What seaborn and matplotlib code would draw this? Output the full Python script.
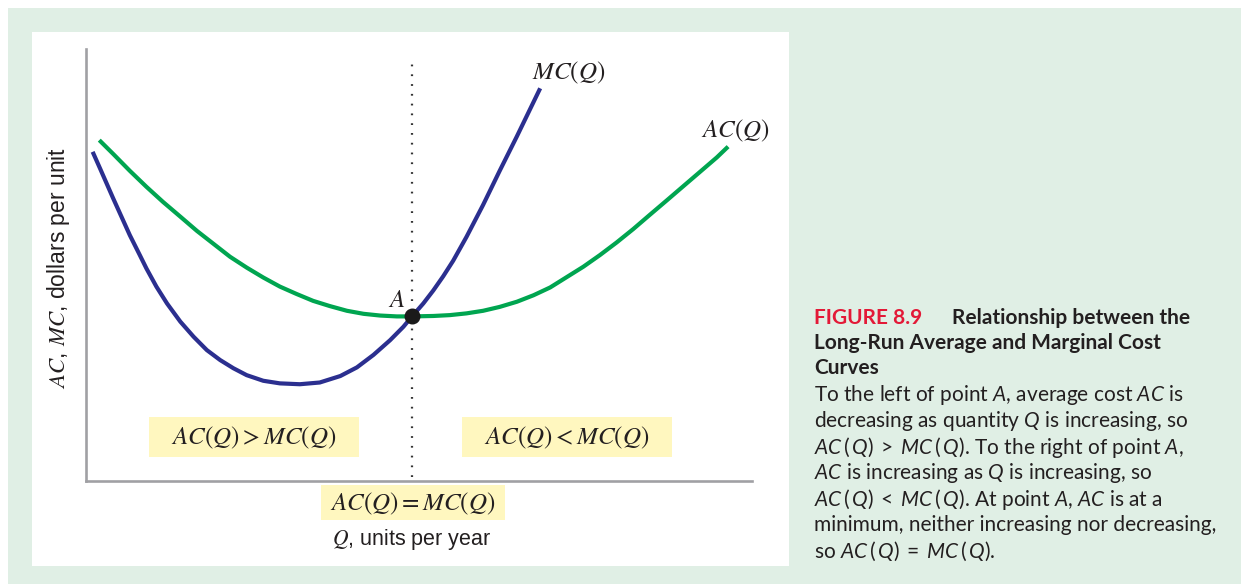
import numpy as np
import pandas as pd
import matplotlib
matplotlib.use("Agg")
import matplotlib.pyplot as plt
from matplotlib.patches import Rectangle
import seaborn as sns

# ---------------- data ----------------
mc_q = [1.0, 2.1, 3.1, 4.1, 5.1, 6.6, 8.1, 9.1, 10.6, 12.2, 14.2, 16.2, 18.2, 20.2, 22.2, 24.2,
        26.7, 29.2, 32.2, 35.2, 38.3, 40.8, 43.3, 45.8, 47.8, 49.1, 50.8, 52.3, 53.8, 55.3,
        57.3, 59.8, 62.3, 64.9, 68.4]
mc_y = [76.2, 72.4, 68.9, 65.4, 62.0, 56.9, 52.3, 49.2, 45.0, 41.1, 36.9, 33.4, 30.3, 28.0, 26.1, 24.5,
        23.2, 22.6, 22.4, 22.8, 24.3, 26.3, 29.2, 32.6, 35.7, 38.1, 41.1, 44.1, 47.4, 51.0,
        56.5, 63.9, 71.8, 79.8, 90.9]
ac_q = [2.0, 4.1, 6.6, 9.1, 11.6, 14.2, 16.7, 19.2, 21.7, 24.2, 26.7, 29.2, 31.7, 34.2, 36.7,
        39.3, 41.8, 44.3, 46.8, 49.1, 52.3, 54.8, 57.3, 59.8, 62.3, 64.9, 67.4, 69.9, 72.4,
        74.9, 77.4, 79.9, 82.4, 84.9, 87.5, 90.0, 92.5, 95.0, 96.7]
ac_y = [78.9, 75.7, 71.8, 68.1, 64.6, 61.2, 57.9, 54.9, 51.9, 49.4, 47.1, 45.0, 43.3, 41.7, 40.5,
        39.4, 38.7, 38.3, 38.1, 38.1, 38.2, 38.4, 38.8, 39.4, 40.3, 41.5, 43.0, 44.8, 47.2,
        49.6, 52.3, 55.2, 58.3, 61.6, 65.0, 68.3, 71.6, 74.9, 77.4]
point_a = (49.1, 38.1)

mc_df = pd.DataFrame({"Q": mc_q, "cost": mc_y})
ac_df = pd.DataFrame({"Q": ac_q, "cost": ac_y})

W, H = 1241, 584
sns.set_theme(style="white")
plt.rcParams["font.family"] = ["Liberation Sans", "DejaVu Sans"]
plt.rcParams["mathtext.fontset"] = "custom"
plt.rcParams["mathtext.it"] = "Lato:italic"
plt.rcParams["mathtext.rm"] = "Lato"
plt.rcParams["mathtext.bf"] = "Lato:bold"

fig = plt.figure(figsize=(W / 100, H / 100), dpi=100)
fig.patch.set_facecolor("white")

def fx(x):
    return x / W

def fy(y):
    return 1 - y / H

GREEN_BG = "#e0efe5"
# outer green panel and white chart panel
fig.patches.append(Rectangle((fx(8), 0), 1 - fx(8), fy(8), transform=fig.transFigure,
                             facecolor=GREEN_BG, edgecolor="none", zorder=-3))
fig.patches.append(Rectangle((fx(32), fy(566)), fx(789 - 32), (566 - 32) / H, transform=fig.transFigure,
                             facecolor="white", edgecolor="none", zorder=-2))

ax = fig.add_axes([fx(86), fy(481), fx(752 - 86), (481 - 49) / H])
ax.set_zorder(0.5)
ax.set_facecolor("none")
ax.set_xlim(0, 100.3)
ax.set_ylim(0, 100)

sns.lineplot(data=mc_df, x="Q", y="cost", sort=False, color="#2b2f8f", lw=3.0, ax=ax,
             solid_capstyle="butt", solid_joinstyle="round", zorder=3)
sns.lineplot(data=ac_df, x="Q", y="cost", sort=False, color="#00a550", lw=3.0, ax=ax,
             solid_capstyle="butt", solid_joinstyle="round", zorder=2)
ax.axvline(point_a[0], ymin=0.01, ymax=0.97, color="#333333", lw=1.6, ls=(0, (0.8, 3.6)), zorder=1)
ax.scatter([point_a[0]], [point_a[1]], s=110, color="#1a1a1a", zorder=5)

for side in ["top", "right"]:
    ax.spines[side].set_visible(False)
for side in ["left", "bottom"]:
    ax.spines[side].set_color("#a0a0a4")
    ax.spines[side].set_linewidth(1.9)
ax.set_xticks([])
ax.set_yticks([])
ax.set_xlabel("")
ax.set_ylabel("")

TXT = "#231f20"
# curve labels
fig.text(fx(569), fy(73), "$MC(Q)$", math_fontfamily="stix", fontsize=18, color=TXT, ha="center", va="center")
fig.text(fx(735), fy(131), "$AC(Q)$", math_fontfamily="stix", fontsize=18, color=TXT, ha="center", va="center")
fig.text(fx(397), fy(300), "$A$", math_fontfamily="stix", fontsize=18, color=TXT, ha="center", va="center")

# yellow boxes
YEL = "#fff7bf"
for (x0, y0, x1, y1, label) in [(149, 417, 359, 457, "$AC(Q) > MC(Q)$"),
                                (462, 417, 672, 457, "$AC(Q) < MC(Q)$"),
                                (321, 485, 505, 520, "$AC(Q) = MC(Q)$")]:
    fig.patches.append(Rectangle((fx(x0), fy(y1)), fx(x1 - x0), (y1 - y0) / H, transform=fig.transFigure,
                                 facecolor=YEL, edgecolor="none", zorder=1))
    fig.text(fx((x0 + x1) / 2), fy((y0 + y1) / 2 + 1), label, math_fontfamily="stix", fontsize=18,
             color=TXT, ha="center", va="center", zorder=2)

# axis labels
fig.text(fx(412), fy(539), "$Q$, units per year", math_fontfamily="stix", fontsize=15.5,
         color=TXT, ha="center", va="center")
fig.text(fx(59), fy(268), "$AC$, $MC$, dollars per unit", math_fontfamily="stix", fontsize=16.5,
         color=TXT, ha="center", va="center", rotation=90)

# caption
CAP = ["Lato", "DejaVu Sans"]
cx = 814
fs = 15
fig.text(fx(cx), fy(318), "FIGURE 8.9", family=CAP, fontweight="bold", fontsize=fs,
         color="#e31937", ha="left", va="center")
fig.text(fx(952), fy(318), "Relationship between the", family=CAP, fontweight="bold", fontsize=fs,
         color=TXT, ha="left", va="center")
fig.text(fx(cx), fy(343), "Long-Run Average and Marginal Cost", family=CAP, fontweight="bold",
         fontsize=fs, color=TXT, ha="left", va="center")
fig.text(fx(cx), fy(368), "Curves", family=CAP, fontweight="bold", fontsize=fs, color=TXT,
         ha="left", va="center")
body = [
    (395, r"To the left of point $A$, average cost $AC$ is"),
    (421, r"decreasing as quantity $Q$ is increasing, so"),
    (447, r"$AC\,(\,Q)\;>\;MC\,(\,Q)$. To the right of point $A$,"),
    (473, r"$AC$ is increasing as $Q$ is increasing, so"),
    (499, r"$AC\,(\,Q)\;<\;MC\,(\,Q)$. At point $A$, $AC$ is at a"),
    (525, r"minimum, neither increasing nor decreasing,"),
    (551, r"so $AC\,(\,Q)\;=\;MC\,(\,Q)$."),
]
for y, s in body:
    fig.text(fx(cx), fy(y), s, family=CAP, math_fontfamily="custom", fontsize=fs, color=TXT,
             ha="left", va="center")

fig.savefig("out.png", dpi=100, facecolor=fig.get_facecolor())
